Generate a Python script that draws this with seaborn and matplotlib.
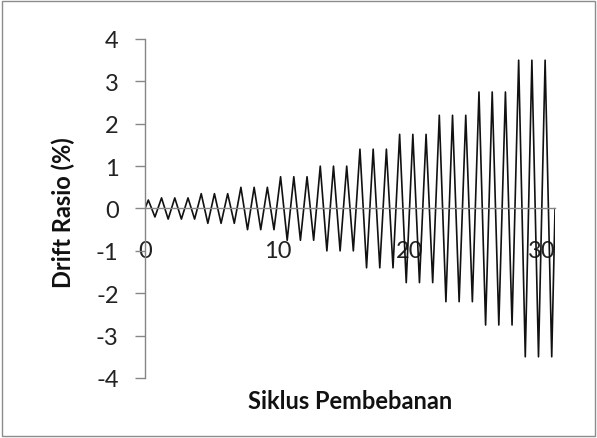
import pandas as pd
import matplotlib
matplotlib.use("Agg")
import matplotlib.pyplot as plt
import seaborn as sns
from matplotlib.patches import Rectangle

# Loading protocol: one peak and one trough per cycle
peak_x = [0.25, 1.25, 2.25, 3.25, 4.25, 5.25, 6.25, 7.25, 8.25, 9.25,
          10.25, 11.25, 12.25, 13.25, 14.25, 15.25, 16.25, 17.25, 18.25, 19.25,
          20.25, 21.25, 22.25, 23.25, 24.25, 25.25, 26.25, 27.25, 28.25, 29.25, 30.25]
trough_x = [0.75, 1.75, 2.75, 3.75, 4.75, 5.75, 6.75, 7.75, 8.75, 9.75,
            10.75, 11.75, 12.75, 13.75, 14.75, 15.75, 16.75, 17.75, 18.75, 19.75,
            20.75, 21.75, 22.75, 23.75, 24.75, 25.75, 26.75, 27.75, 28.75, 29.75, 30.75]
amplitude = [0.2, 0.25, 0.25, 0.25, 0.35, 0.35, 0.35, 0.5, 0.5, 0.5,
             0.75, 0.75, 0.75, 1.0, 1.0, 1.0, 1.4, 1.4, 1.4, 1.75,
             1.75, 1.75, 2.2, 2.2, 2.2, 2.75, 2.75, 2.75, 3.5, 3.5, 3.5]
start_point = (0, 0)
end_point = (31, 0)

y_ticks = [-4, -3, -2, -1, 0, 1, 2, 3, 4]
x_ticks = [0, 10, 20, 30]

xs = [start_point[0]]
ys = [start_point[1]]
for px, tx, a in zip(peak_x, trough_x, amplitude):
    xs += [px, tx]
    ys += [a, -a]
xs.append(end_point[0])
ys.append(end_point[1])
df = pd.DataFrame({"siklus": xs, "drift": ys})

sns.set_style("white")
plt.rcParams["font.family"] = ["Lato", "DejaVu Sans"]
plt.rcParams["axes.unicode_minus"] = False

fig = plt.figure(figsize=(5.97, 4.39), dpi=100)
ax = fig.add_axes([0.2429, 0.1367, 0.6868, 0.7722])

sns.lineplot(data=df, x="siklus", y="drift", sort=False, estimator=None,
             color="#111111", linewidth=1.2, ax=ax)

ax.set_xlim(0, 31)
ax.set_ylim(-4, 4)
ax.set_yticks(y_ticks)
ax.set_xticks(x_ticks)

axis_col = "#868686"
for s in ["top", "right"]:
    ax.spines[s].set_visible(False)
ax.spines["bottom"].set_position(("data", 0))
ax.spines["left"].set_color(axis_col)
ax.spines["bottom"].set_color(axis_col)
ax.spines["left"].set_linewidth(1.0)
ax.spines["bottom"].set_linewidth(1.0)

ax.tick_params(axis="y", direction="out", length=7, width=1.0, color=axis_col,
               pad=12, labelsize=17, labelcolor="#222222", left=True)
ax.tick_params(axis="x", length=0, pad=23, labelsize=17, labelcolor="#222222")

ax.set_xlabel("")
ax.set_ylabel("")
fig.text(350 / 597, 1 - 402 / 439, "Siklus Pembebanan", ha="center", va="center",
         fontsize=17, fontweight="bold", color="#111111")
fig.text(63 / 597, 1 - 213 / 439, "Drift Rasio (%)", ha="center", va="center",
         rotation=90, fontsize=17, fontweight="bold", color="#111111")

fig.patches.append(Rectangle((0.003, 0.004), 0.993, 0.991, transform=fig.transFigure,
                             fill=False, edgecolor="#8c8c8c", linewidth=1.0))

fig.savefig("out.png", dpi=100)
